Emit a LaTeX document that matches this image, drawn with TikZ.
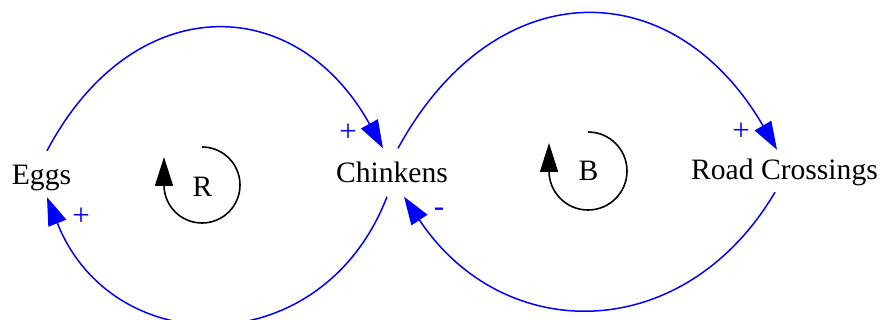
\documentclass[tikz,border=0pt]{standalone}
\usepackage{fontspec}
\setmainfont{Liberation Serif}
\usetikzlibrary{arrows.meta}
\tikzset{
  var/.style={inner sep=0pt, anchor=base, text height=34pt, text depth=12pt, font=\fontsize{29.6}{34}\selectfont},
  lbl/.style={inner sep=0pt, text=blue, font=\fontsize{31}{34}\selectfont},
  loopname/.style={inner sep=0pt, font=\fontsize{29.6}{34}\selectfont},
  edge/.style={blue, line width=1.5pt, -{Triangle[length=28pt,width=19pt]}},
  loopline/.style={black, line width=1.6pt, -{Triangle[length=29pt,width=18pt]}}
}
\begin{document}
\begin{tikzpicture}[x=1pt,y=1pt]
\useasboundingbox (0,0) rectangle (882,320);
\node[var] (eggs) at (41.5,135) {Eggs};
\node[var] (chink) at (392,137.5) {Chinkens};
\node[var] (road) at (784.5,140) {Road Crossings};
\node[loopname] (R) at (202.5,133) {R};
\node[loopname] (B) at (588.5,149) {B};

\draw[edge] ([xshift=5.5pt]eggs.north) .. controls (132,330) and (295,330) .. ([xshift=-9pt]chink.north);
\draw[edge] ([xshift=-5pt,yshift=-2pt]chink.south) .. controls (323,-43) and (113,-43) .. ([xshift=5.5pt]eggs.south);
\draw[edge] ([xshift=6pt]chink.north) .. controls (495,349) and (673,349) .. ([xshift=-7.5pt,yshift=-4pt]road.north);
\draw[edge] ([xshift=-9.5pt]road.south) .. controls (684,-26) and (503,-26) .. ([xshift=12pt,yshift=-2pt]chink.south);

\node[lbl] (l1) at (348,187) {+};
\node[lbl] (l2) at (81,103) {+};
\node[lbl] (l3) at (741,188) {+};
\node[lbl] (l4) at (439,108) {-};

\draw[loopline] ([shift={(-0.5,40)}]R.center) arc[start angle=90, end angle=-180, radius=38] -- ([shift={(-38.5,30)}]R.center);
\draw[loopline] ([shift={(-0.5,39)}]B.center) arc[start angle=90, end angle=-180, radius=39] -- ([shift={(-39.5,28)}]B.center);
\end{tikzpicture}
\end{document}
